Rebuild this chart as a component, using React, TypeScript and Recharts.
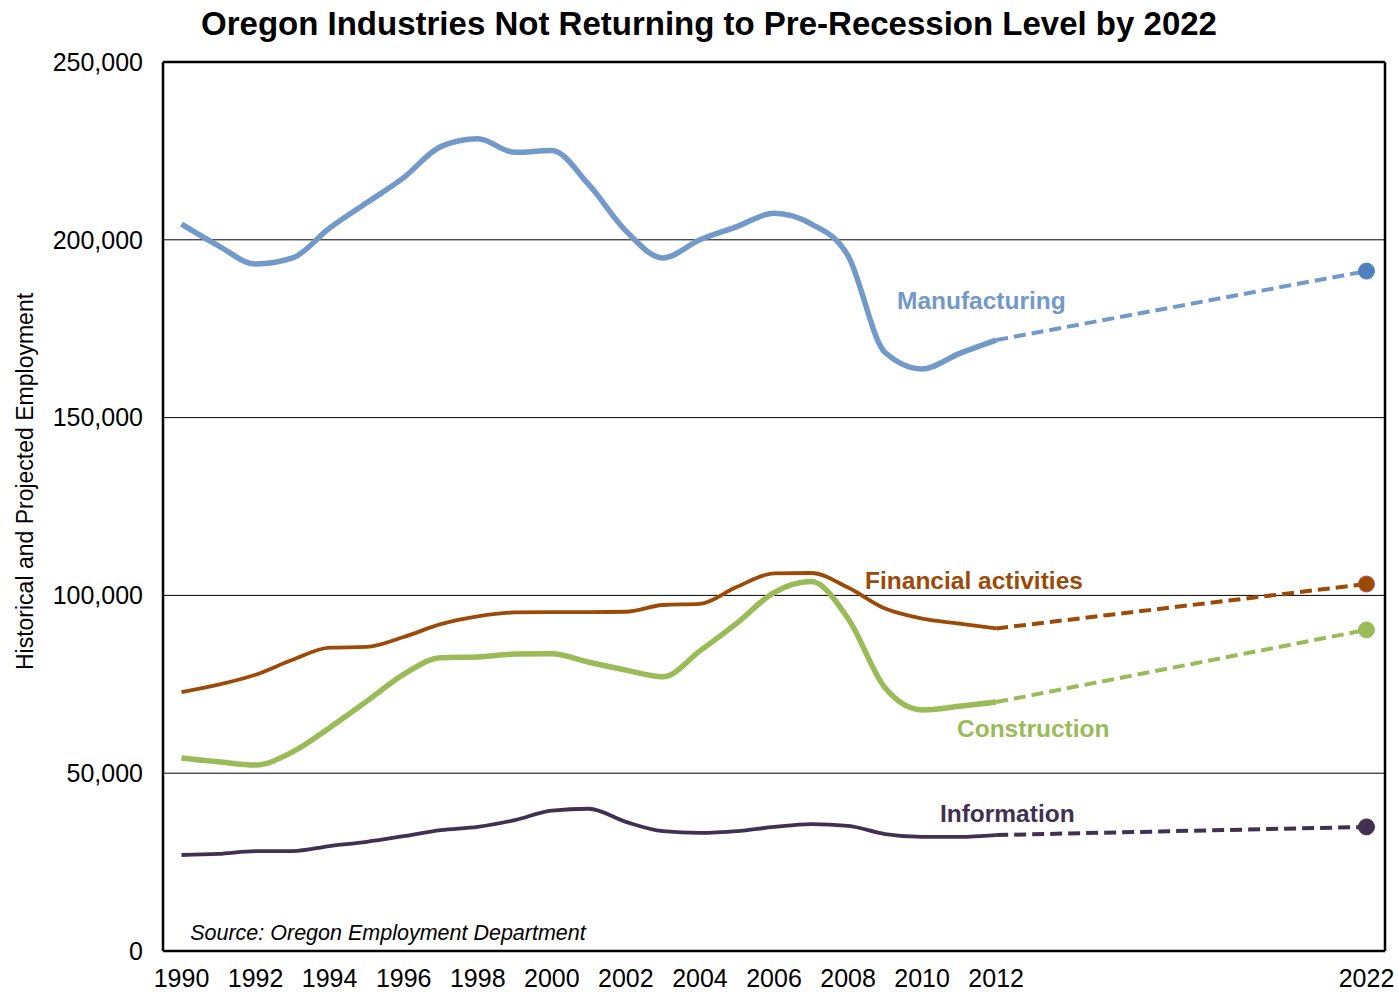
import {
  LineChart,
  Line,
  XAxis,
  YAxis,
  CartesianGrid,
  ReferenceLine,
  ReferenceDot,
  Label,
} from 'recharts'

const years = [
  1990, 1991, 1992, 1993, 1994, 1995, 1996, 1997, 1998, 1999, 2000, 2001,
  2002, 2003, 2004, 2005, 2006, 2007, 2008, 2009, 2010, 2011, 2012, 2022,
]

// historical values 1990-2012, null for the projected year
const manufacturing = [
  204400, 198300, 193200, 194900, 203300, 210400, 217500, 226200, 228400,
  224600, 225100, 215500, 202500, 194900, 200000, 203700, 207500, 204500,
  195500, 168300, 163700, 168000, 171800, null,
]
const financial = [
  72800, 74900, 77700, 81900, 85300, 85500, 88300, 91900, 94100, 95200,
  95300, 95300, 95400, 97300, 97600, 102400, 106200, 106300, 102200, 96300,
  93500, 92100, 90700, null,
]
const construction = [
  54300, 53200, 52300, 56000, 62800, 70200, 77800, 82500, 82700, 83500,
  83600, 81200, 79000, 77100, 84400, 92200, 100800, 103900, 93500, 74000,
  67800, 68800, 70000, null,
]
const information = [
  27000, 27300, 28100, 28100, 29500, 30700, 32300, 34000, 34900, 36800,
  39500, 40000, 36300, 33700, 33200, 33700, 34900, 35700, 35200, 32900,
  32100, 32100, 32600, null,
]

// projection: 2012 actual -> 2022 projected
const projYears = [2012, 2022]
const manufacturingProj = [171800, 191200]
const financialProj = [90700, 103200]
const constructionProj = [70000, 90300]
const informationProj = [32600, 34900]

const xTicks = [1990, 1992, 1994, 1996, 1998, 2000, 2002, 2004, 2006, 2008, 2010, 2012, 2022]
const yTicks = [0, 50000, 100000, 150000, 200000, 250000]

const COLORS = {
  manufacturing: '#7399c9',
  manufacturingDot: '#4f81bd',
  financial: '#9c4a08',
  construction: '#9bbb59',
  information: '#403152',
}

const pick = (arr: number[], yr: number) => {
  const p = projYears.indexOf(yr)
  return p >= 0 ? arr[p] : null
}

const data = years.map((year, i) => ({
  year,
  manufacturing: manufacturing[i],
  financial: financial[i],
  construction: construction[i],
  information: information[i],
  manufacturingProj: pick(manufacturingProj, year),
  financialProj: pick(financialProj, year),
  constructionProj: pick(constructionProj, year),
  informationProj: pick(informationProj, year),
}))

const FONT = '"Liberation Sans", Arial, sans-serif'

const endDot = (color: string, stroke?: string) => (props: any) => {
  const { cx, cy, payload, index } = props
  if (payload.year !== 2022 || cx == null) return <g key={`d-${index}`} />
  return (
    <circle
      key={`d-${index}`}
      cx={cx}
      cy={cy}
      r={8}
      fill={color}
      stroke={stroke ?? color}
      strokeWidth={1}
    />
  )
}

const seriesLabel = (text: string, color: string) => ({
  value: text,
  position: 'center' as const,
  fill: color,
  fontSize: 24.5,
  fontWeight: 'bold',
  fontFamily: FONT,
})

export default function App() {
  return (
    <div style={{ position: 'absolute', left: 0, top: 0, width: 1399, height: 992, background: '#fff', fontFamily: FONT }}>
      <div
        style={{
          position: 'absolute',
          left: 0,
          top: 5,
          width: 1418,
          textAlign: 'center',
          fontSize: 33,
          fontWeight: 'bold',
          color: '#000',
        }}
      >
        Oregon Industries Not Returning to Pre-Recession Level by 2022
      </div>
      <LineChart
        width={1399}
        height={992}
        data={data}
        margin={{ top: 62, right: 14, bottom: 0, left: 0 }}
      >
        <CartesianGrid vertical={false} stroke="#000" strokeWidth={1} />
        <XAxis
          dataKey="year"
          type="number"
          domain={[1989.5, 2022.5]}
          ticks={xTicks}
          interval={0}
          height={41}
          axisLine={{ stroke: '#000', strokeWidth: 2.5 }}
          tickLine={false}
          tickMargin={12}
          tick={{ fill: '#000', fontSize: 25, fontFamily: FONT }}
        />
        <YAxis
          type="number"
          domain={[0, 250000]}
          ticks={yTicks}
          width={163}
          axisLine={{ stroke: '#000', strokeWidth: 2.5 }}
          tickLine={false}
          tickMargin={14}
          tickFormatter={(v: number) => v.toLocaleString('en-US')}
          tick={{ fill: '#000', fontSize: 25, fontFamily: FONT }}
        >
          <Label
            content={(props: any) => {
              const vb = props.viewBox
              const x = 25
              const y = vb.y + vb.height / 2 - 25
              return (
                <text
                  x={x}
                  y={y}
                  transform={`rotate(-90 ${x} ${y})`}
                  textAnchor="middle"
                  dominantBaseline="central"
                  fontSize={23}
                  fontFamily={FONT}
                  fill="#000"
                >
                  Historical and Projected Employment
                </text>
              )
            }}
          />
        </YAxis>
        <ReferenceLine y={250000} stroke="#000" strokeWidth={2.5} />
        <ReferenceLine x={2022.5} stroke="#000" strokeWidth={2.5} />

        <Line type="monotone" dataKey="manufacturing" stroke={COLORS.manufacturing} strokeWidth={5.5} dot={false} isAnimationActive={false} />
        <Line type="monotone" dataKey="financial" stroke={COLORS.financial} strokeWidth={3.8} dot={false} isAnimationActive={false} />
        <Line type="monotone" dataKey="construction" stroke={COLORS.construction} strokeWidth={5.5} dot={false} isAnimationActive={false} />
        <Line type="monotone" dataKey="information" stroke={COLORS.information} strokeWidth={3.8} dot={false} isAnimationActive={false} />

        <Line type="linear" dataKey="manufacturingProj" stroke={COLORS.manufacturing} strokeWidth={4} strokeDasharray="12 6" dot={endDot(COLORS.manufacturingDot)} activeDot={false} isAnimationActive={false} />
        <Line type="linear" dataKey="financialProj" stroke={COLORS.financial} strokeWidth={4} strokeDasharray="12 6" dot={endDot(COLORS.financial, '#c0504d')} activeDot={false} isAnimationActive={false} />
        <Line type="linear" dataKey="constructionProj" stroke={COLORS.construction} strokeWidth={4} strokeDasharray="12 6" dot={endDot(COLORS.construction)} activeDot={false} isAnimationActive={false} />
        <Line type="linear" dataKey="informationProj" stroke={COLORS.information} strokeWidth={4} strokeDasharray="12 6" dot={endDot(COLORS.information)} activeDot={false} isAnimationActive={false} />

        <ReferenceDot x={2011.6} y={183100} r={0} fill="none" stroke="none" ifOverflow="visible" label={seriesLabel('Manufacturing', COLORS.manufacturing)} />
        <ReferenceDot x={2011.4} y={104300} r={0} fill="none" stroke="none" ifOverflow="visible" label={seriesLabel('Financial activities', COLORS.financial)} />
        <ReferenceDot x={2013.0} y={62700} r={0} fill="none" stroke="none" ifOverflow="visible" label={seriesLabel('Construction', COLORS.construction)} />
        <ReferenceDot x={2012.3} y={38800} r={0} fill="none" stroke="none" ifOverflow="visible" label={seriesLabel('Information', COLORS.information)} />
        <ReferenceDot
          x={1990.1}
          y={5300}
          r={0}
          fill="none"
          stroke="none"
          ifOverflow="visible"
          label={{
            value: 'Source: Oregon Employment Department',
            position: 'right',
            fill: '#000',
            fontSize: 21.5,
            fontStyle: 'italic',
            fontFamily: FONT,
          }}
        />
      </LineChart>
    </div>
  )
}
